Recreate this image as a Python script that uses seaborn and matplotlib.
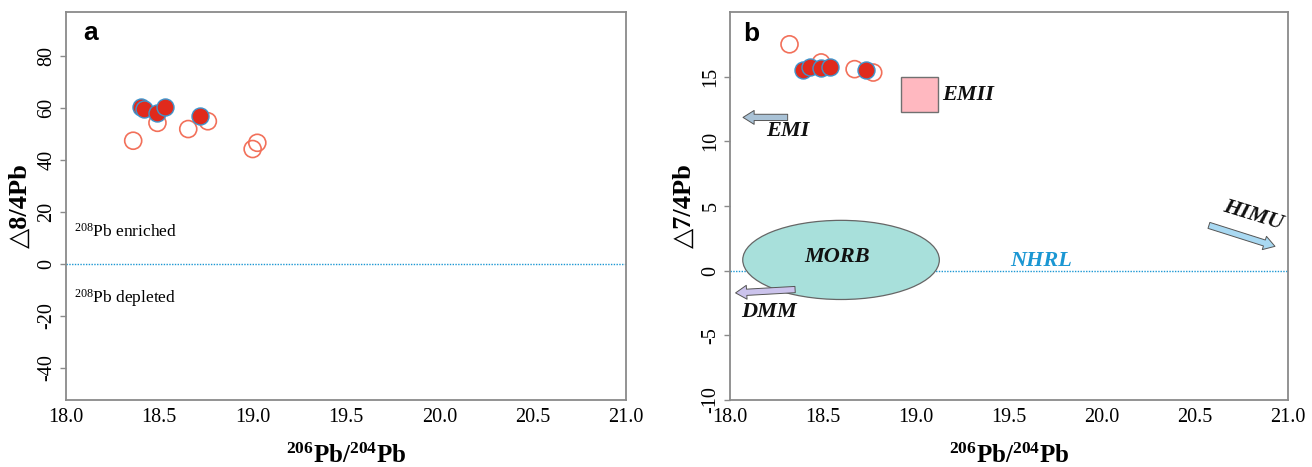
import matplotlib
matplotlib.use("Agg")
import matplotlib.pyplot as plt
import seaborn as sns
import pandas as pd
from matplotlib.patches import Ellipse, Rectangle

# ---------------- data ----------------
# Panel a: Delta 8/4 Pb vs 206Pb/204Pb
a_filled_x = [18.40, 18.42, 18.49, 18.53, 18.72]
a_filled_y = [60.3, 59.5, 58.0, 60.5, 57.0]
a_open_x = [18.36, 18.49, 18.655, 18.76, 19.00, 19.025]
a_open_y = [47.4, 54.3, 51.9, 54.9, 44.2, 46.6]

# Panel b: Delta 7/4 Pb vs 206Pb/204Pb
b_filled_x = [18.39, 18.43, 18.49, 18.54, 18.73]
b_filled_y = [15.53, 15.71, 15.66, 15.71, 15.50]
b_open_x = [18.32, 18.49, 18.67, 18.77]
b_open_y = [17.5, 16.1, 15.58, 15.32]

# reference fields (panel b)
morb_center = (18.597, 0.83)
morb_size = (1.057, 6.12)
emii_corner = (18.92, 12.3)
emii_size = (0.20, 2.7)
emi_arrow = [(18.31, 11.85), (18.07, 11.85)]
dmm_arrow = [(18.35, -1.46), (18.03, -1.72)]
himu_arrow = [(20.575, 3.5), (20.93, 1.88)]

x_ticks = [18.0, 18.5, 19.0, 19.5, 20.0, 20.5, 21.0]
x_tick_labels = ["18.0", "18.5", "19.0", "19.5", "20.0", "20.5", "21.0"]
a_y_ticks = [-40, -20, 0, 20, 40, 60, 80]
b_y_ticks = [-10, -5, 0, 5, 10, 15]

# ---------------- style ----------------
sns.set_theme(style="white")
plt.rcParams["font.family"] = ["Liberation Serif", "DejaVu Serif"]
plt.rcParams["mathtext.fontset"] = "custom"
plt.rcParams["mathtext.rm"] = "Liberation Serif"
plt.rcParams["mathtext.bf"] = "Liberation Serif:bold"
plt.rcParams["mathtext.it"] = "Liberation Serif:italic"
plt.rcParams["text.color"] = "black"
plt.rcParams["axes.labelcolor"] = "black"

RED = "#e02a1c"
BLUE_EDGE = "#3f94cc"
OPEN_EDGE = "#f2705a"
SPINE = "#8a8a8a"
NHRL_C = "#1b97d3"

fig = plt.figure(figsize=(13.12, 4.67), dpi=100)
axa = fig.add_axes([0.0503, 0.1435, 0.4268, 0.8308])
axb = fig.add_axes([0.5564, 0.1435, 0.4253, 0.8308])

def style_axes(ax, yticks, ylim, ylabel):
    ax.set_xlim(18.0, 21.0)
    ax.set_ylim(*ylim)
    ax.set_xticks(x_ticks)
    ax.set_xticklabels(x_tick_labels)
    ax.set_yticks(yticks)
    ax.set_yticklabels([str(v) for v in yticks], rotation=90, va="center")
    ax.tick_params(axis="x", length=0, pad=6, labelsize=14.5, labelcolor="black")
    ax.tick_params(axis="y", length=4, width=1, color=SPINE, pad=3,
                   labelsize=14.5, labelcolor="black", left=True)
    for s in ax.spines.values():
        s.set_color(SPINE)
        s.set_linewidth(1.3)
    ax.set_xlabel(r"$\mathbf{^{206}Pb/^{204}Pb}$", fontsize=18, labelpad=12)
    ax.set_ylabel(ylabel, fontsize=19, fontweight="bold", labelpad=4)
    ax.axhline(0, color=NHRL_C, lw=1.0, ls=(0, (1, 1)), zorder=1)

def draw_points(ax, ox, oy, fx, fy):
    df_o = pd.DataFrame({"x": ox, "y": oy})
    df_f = pd.DataFrame({"x": fx, "y": fy})
    sns.scatterplot(data=df_o, x="x", y="y", ax=ax, s=150, facecolor="none",
                    edgecolor=OPEN_EDGE, linewidth=1.2, zorder=3, legend=False)
    sns.scatterplot(data=df_f, x="x", y="y", ax=ax, s=150, color=RED,
                    edgecolor=BLUE_EDGE, linewidth=1.0, zorder=4, legend=False)

# ---------------- panel a ----------------
draw_points(axa, a_open_x, a_open_y, a_filled_x, a_filled_y)
style_axes(axa, a_y_ticks, (-52.5, 97), "△8/4Pb")
axa.text(18.134, 88.9, "a", family=["Liberation Sans", "DejaVu Sans"],
         fontweight="bold", fontsize=19, ha="center", va="center")
axa.text(18.045, 12.3, r"$^{208}$Pb enriched", fontsize=12.5, ha="left", va="center")
axa.text(18.045, -13.1, r"$^{208}$Pb depleted", fontsize=12.5, ha="left", va="center")

# ---------------- panel b ----------------
style_axes(axb, b_y_ticks, (-10, 20), "△7/4Pb")

axb.add_patch(Ellipse(morb_center, morb_size[0], morb_size[1], facecolor="#a8e0db",
                      edgecolor="#666666", lw=0.9, zorder=2))
axb.add_patch(Rectangle(emii_corner, emii_size[0], emii_size[1], facecolor="#ffb8c0",
                        edgecolor="#707070", lw=1.0, zorder=2))
draw_points(axb, b_open_x, b_open_y, b_filled_x, b_filled_y)

def block_arrow(ax, pts, fc):
    ax.annotate("", xy=pts[1], xytext=pts[0],
                arrowprops=dict(arrowstyle="simple,head_length=0.8,head_width=1.0,tail_width=0.45",
                                fc=fc, ec="#555555", lw=0.7, shrinkA=0, shrinkB=0,
                                mutation_scale=10), zorder=5)

block_arrow(axb, emi_arrow, "#a9c2d6")
block_arrow(axb, dmm_arrow, "#cbc3ec")
block_arrow(axb, himu_arrow, "#a9d9f2")

lab_kw = dict(fontsize=16, fontweight="bold", fontstyle="italic", color="#111111", zorder=6)
axb.text(19.14, 13.6, "EMII", ha="left", va="center", **lab_kw)
axb.text(18.31, 10.83, "EMI", ha="center", va="center", **lab_kw)
axb.text(18.574, 1.06, "MORB", ha="center", va="center", **lab_kw)
axb.text(18.21, -3.18, "DMM", ha="center", va="center", **lab_kw)
axb.text(20.81, 4.27, "HIMU", ha="center", va="center", rotation=-17, **lab_kw)
axb.text(19.675, 0.77, "NHRL", ha="center", va="center", fontsize=16,
         fontweight="bold", fontstyle="italic", color=NHRL_C, zorder=6)
axb.text(18.117, 18.28, "b", family=["Liberation Sans", "DejaVu Sans"],
         fontweight="bold", fontsize=19, ha="center", va="center")

fig.savefig("out.png", dpi=100)
